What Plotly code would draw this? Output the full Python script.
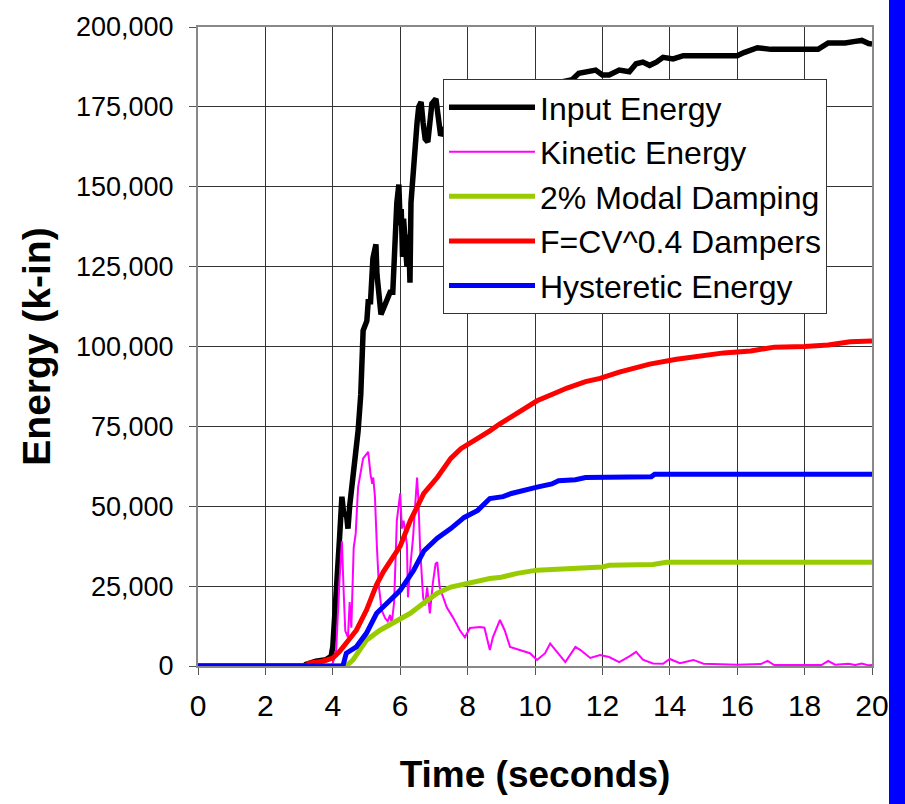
import plotly.graph_objects as go

# ---- data ----
t_input = [0, 3.15, 3.2, 3.5, 3.8, 3.95, 4.0, 4.07, 4.15, 4.2, 4.27, 4.33, 4.4, 4.45, 4.5, 4.56,
           4.63, 4.75, 4.83, 4.9, 5.01, 5.05, 5.12, 5.19, 5.28, 5.31, 5.43, 5.5, 5.6, 5.7, 5.78,
           5.85, 5.9, 5.96, 6.0, 6.03, 6.07, 6.1, 6.15, 6.2, 6.25, 6.29, 6.32, 6.36, 6.4, 6.44,
           6.5, 6.55, 6.62, 6.68, 6.74, 6.82, 6.88, 6.94, 7.06, 7.12, 7.2, 7.3, 7.6, 8.0, 8.5,
           9.0, 9.5, 10.0, 10.5, 11.0, 11.1, 11.3, 11.5, 11.8, 12.0, 12.2, 12.5, 12.8, 13.0,
           13.2, 13.4, 13.6, 13.8, 14.1, 14.4, 16.0, 16.2, 16.6, 17.0, 18.4, 18.7, 19.2, 19.5,
           19.7, 19.9, 20.0]
e_input = [0, 0, 500, 1500, 2000, 3000, 6000, 16500, 31000, 40000, 53000, 47000, 48000, 43000,
           50000, 55000, 64000, 73500, 85000, 105000, 108000, 114000, 114000, 127600, 132000,
           122600, 110000, 112000, 114000, 117000, 117000, 135000, 145000, 150700, 138000,
           143000, 128000, 140000, 132000, 125000, 135000, 120000, 145000, 152000, 156000,
           164000, 170000, 175000, 176500, 170000, 165000, 164000, 170000, 176000, 177500,
           172000, 166000, 168000, 172000, 175000, 176000, 178000, 180000, 181000, 182000,
           183000, 183500, 185500, 186000, 186500, 185000, 185000, 186500, 186000, 188500,
           189000, 188000, 189000, 190500, 190000, 191000, 191000, 192000, 193500, 193000,
           193000, 195000, 195000, 195500, 195800, 194800, 194700]

t_kinetic = [0, 3.9, 4.0, 4.1, 4.2, 4.27, 4.32, 4.37, 4.45, 4.5, 4.55, 4.62, 4.68, 4.75, 4.9,
             5.05, 5.12, 5.17, 5.2, 5.25, 5.31, 5.37, 5.45, 5.55, 5.63, 5.7, 5.75, 5.82, 5.9,
             5.95, 6.0, 6.05, 6.1, 6.2, 6.23, 6.29, 6.38, 6.5, 6.54, 6.59, 6.68, 6.74, 6.8,
             6.88, 6.97, 7.05, 7.1, 7.17, 7.38, 7.56, 7.77, 7.92, 8.07, 8.37, 8.5, 8.66, 8.75,
             8.96, 9.1, 9.26, 9.55, 9.85, 10.06, 10.3, 10.45, 10.6, 10.9, 11.2, 11.35, 11.64,
             11.93, 12.2, 12.5, 12.8, 13.0, 13.2, 13.5, 13.8, 14.0, 14.3, 14.7, 15.0, 15.5,
             16.0, 16.7, 16.9, 17.1, 18.0, 18.5, 18.7, 18.9, 19.3, 19.5, 19.7, 19.9, 20.0]
e_kinetic = [0, 0, 800, 5000, 27000, 39000, 24000, 11000, 9000, 20000, 12000, 37000, 41500,
             56000, 65000, 67000, 60000, 57000, 59000, 53000, 37000, 24700, 17500, 15000,
             14000, 16000, 13400, 20000, 45500, 50000, 54000, 43000, 45500, 38000, 21500,
             30000, 40000, 59000, 52000, 37000, 21500, 19000, 24600, 16500, 26000, 32000,
             32500, 24700, 18400, 15300, 11200, 9000, 11900, 12200, 12000, 5000, 9000, 14400,
             11200, 6000, 5000, 4000, 1900, 4000, 7000, 5000, 1200, 6000, 5000, 2500, 3400,
             2800, 1200, 3000, 4400, 2000, 800, 700, 2200, 900, 1900, 700, 500, 400, 600, 1600,
             300, 200, 300, 1600, 400, 700, 300, 800, 200, 300]

t_modal = [0, 4.4, 4.6, 5.0, 5.4, 5.8, 6.3, 6.7, 7.1, 7.5, 8.07, 8.66, 9.0, 9.47, 10.06, 11.0,
           11.1, 12.0, 12.2, 13.5, 13.9, 20.0]
e_modal = [0, 0, 1900, 8100, 11200, 13400, 16500, 19700, 22800, 24700, 26200, 27400, 27800,
           29000, 30000, 30300, 30600, 31000, 31500, 31800, 32500, 32500]

t_damper = [0, 3.2, 3.3, 3.7, 4.0, 4.2, 4.4, 4.7, 5.0, 5.3, 5.5, 5.7, 6.0, 6.3, 6.7, 7.1, 7.5,
            7.8, 8.2, 8.66, 8.96, 9.47, 10.06, 10.5, 10.95, 11.5, 11.93, 12.5, 13.4, 14.2,
            14.9, 15.6, 16.4, 17.1, 18.0, 18.7, 19.35, 20.0]
e_damper = [0, 0, 900, 1500, 2500, 4500, 7200, 11200, 17500, 25500, 29500, 32500, 37500,
            45500, 54000, 59000, 65000, 68000, 70500, 73600, 75800, 79000, 83000, 85000,
            87000, 89000, 90000, 92000, 94500, 96000, 97000, 98000, 98600, 99800, 100000,
            100500, 101500, 101700]

t_hyst = [0, 4.3, 4.4, 4.7, 5.0, 5.3, 5.7, 6.0, 6.4, 6.7, 7.1, 7.5, 7.9, 8.3, 8.66, 9.05, 9.3,
          9.65, 10.06, 10.5, 10.7, 11.2, 11.5, 13.45, 13.55, 20.0]
e_hyst = [0, 0, 4000, 6000, 10300, 16500, 20600, 23700, 30000, 36000, 40000, 43000, 46500,
          48700, 52400, 53000, 54000, 55000, 56000, 57000, 58000, 58300, 59000, 59200, 60000,
          60000]

series_names = ["Input Energy", "Kinetic Energy", "2% Modal Damping",
                "F=CV^0.4 Dampers", "Hysteretic Energy"]
x_ticks = list(range(0, 21, 2))
y_ticks = list(range(0, 200001, 25000))

FONT = "Liberation Sans, Arial, sans-serif"

fig = go.Figure()
specs = [
    (t_input, e_input, "#000000", 5.5),
    (t_kinetic, e_kinetic, "#FF00FF", 2),
    (t_modal, e_modal, "#99CC00", 5),
    (t_damper, e_damper, "#FF0000", 5),
    (t_hyst, e_hyst, "#0000FF", 5),
]
for name, (tx, ey, col, w) in zip(series_names, specs):
    fig.add_trace(go.Scatter(x=tx, y=ey, mode="lines", name=name,
                             line=dict(color=col, width=w)))

# blue bar at right edge of the page
fig.add_shape(type="rect", xref="paper", yref="paper",
              x0=(889 - 198) / 674, x1=(910 - 198) / 674,
              y0=(666 - 810) / 641, y1=(666 + 10) / 641,
              fillcolor="#0000FF", line=dict(width=0), layer="above")

fig.update_layout(
    width=905, height=804,
    margin=dict(l=198, r=33, t=25, b=138),
    paper_bgcolor="white", plot_bgcolor="white",
    font=dict(family=FONT, color="black"),
    showlegend=True,
    legend=dict(x=(443 - 198) / 674, y=(666 - 77) / 641, xanchor="left", yanchor="top",
                bgcolor="white", bordercolor="#333333", borderwidth=1,
                font=dict(size=32, family=FONT), itemwidth=86,
                tracegroupgap=0),
)
fig.update_xaxes(range=[0, 20], tickvals=x_ticks, ticktext=[str(v) for v in x_ticks],
                 showgrid=True, gridcolor="#333333", gridwidth=1,
                 showline=True, linecolor="#888888", linewidth=2, mirror=True,
                 ticks="outside", ticklen=7, tickcolor="#555555",
                 tickfont=dict(size=30), zeroline=False, layer="below traces",
                 ticklabelstandoff=5,
                 title=dict(text="<b>Time (seconds)</b>", font=dict(size=37), standoff=40))
fig.update_yaxes(range=[0, 200000], tickvals=y_ticks, tickformat=",d",
                 showgrid=True, gridcolor="#333333", gridwidth=1,
                 showline=True, linecolor="#888888", linewidth=2, mirror=True,
                 ticks="outside", ticklen=7, tickcolor="#555555",
                 tickfont=dict(size=27), zeroline=False, layer="below traces",
                 ticklabelstandoff=10,
                 title=dict(text="<b>Energy (k-in)</b>", font=dict(size=39), standoff=13))

fig.write_html("out.html")
